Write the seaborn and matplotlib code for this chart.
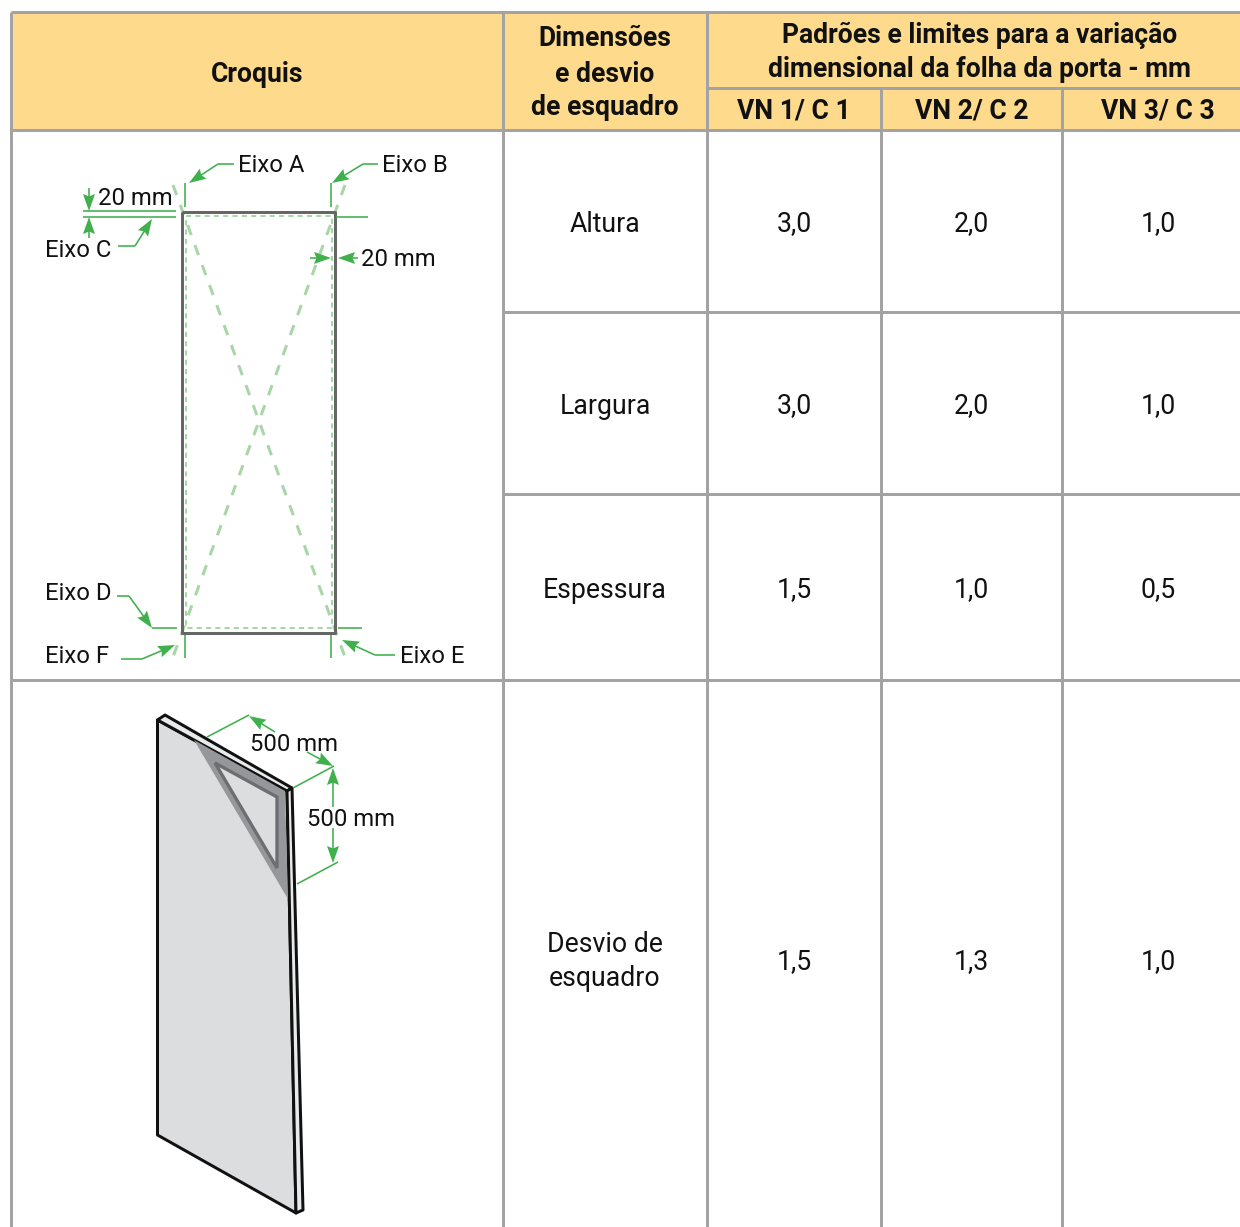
import math

import matplotlib
matplotlib.use("Agg")
import matplotlib.pyplot as plt
from matplotlib.patches import Polygon, Rectangle
import seaborn as sns

# table content
dimensions = ["Altura", "Largura", "Espessura", "Desvio de\nesquadro"]
vn1_values = ["3,0", "3,0", "1,5", "1,5"]
vn2_values = ["2,0", "2,0", "1,0", "1,3"]
vn3_values = ["1,0", "1,0", "0,5", "1,0"]
class_labels = ["VN 1/ C 1", "VN 2/ C 2", "VN 3/ C 3"]
group_title = ["Padrões e limites para a variação", "dimensional da folha da porta - mm"]
dim_title = ["Dimensões", "e desvio", "de esquadro"]

# layout in pixels of the 1240x1227 picture
col_edges = [11, 503, 707, 881, 1062, 1254]
row_edges = [130, 312, 494, 680, 1237]

GRID = "#a3a3a3"
HEAD = "#fedb8c"
GREEN = "#3fb04b"
PALE = "#a9d6a6"
FRAME = "#86cc86"
FACE = "#dcdddf"
PX = 72 / 100  # one pixel in points

sns.set_theme(style="white")
plt.rcParams["font.family"] = ["Roboto", "DejaVu Sans"]

fig = plt.figure(figsize=(12.4, 12.27), dpi=100)
ax = fig.add_axes([0, 0, 1, 1])
ax.set_xlim(0, 1240)
ax.set_ylim(1227, 0)
ax.axis("off")


def line(xs, ys, color=GREEN, width=1.6, z=3, **kw):
    sns.lineplot(x=xs, y=ys, sort=False, estimator=None, errorbar=None, ax=ax,
                 color=color, linewidth=width * PX, zorder=z, legend=False,
                 solid_capstyle="butt", dash_capstyle="butt", **kw)


def arrow(start, tip):
    # thin shaft with a notched head
    length = math.hypot(tip[0] - start[0], tip[1] - start[1])
    dx, dy = (tip[0] - start[0]) / length, (tip[1] - start[1]) / length
    line([start[0], tip[0] - 10 * dx], [start[1], tip[1] - 10 * dy], z=4)
    head = [tip,
            (tip[0] - 17 * dx - 6 * dy, tip[1] - 17 * dy + 6 * dx),
            (tip[0] - 14.5 * dx, tip[1] - 14.5 * dy),
            (tip[0] - 17 * dx + 6 * dy, tip[1] - 17 * dy - 6 * dx)]
    ax.add_patch(Polygon(head, facecolor=GREEN, edgecolor="none", zorder=4))


def leader(xs, ys):
    # all but the last leg is plain line, last leg ends in an arrow head
    line(xs[:-1], ys[:-1])
    arrow((xs[-2], ys[-2]), (xs[-1], ys[-1]))


def label(x, y, s, size=17.2, va="center_baseline", **kw):
    kw.setdefault("ha", "center")
    ax.text(x, y, s, fontsize=size, va=va, color="#111111", zorder=6, **kw)


# header band and grid
ax.add_patch(Rectangle((col_edges[0], 12), col_edges[-1] - col_edges[0], row_edges[0] - 12,
                       facecolor=HEAD, edgecolor="none", zorder=0))
for x in col_edges[:3]:
    line([x, x], [12, 1240], color=GRID, width=3)
for x in col_edges[3:5]:
    line([x, x], [88, 1240], color=GRID, width=3)
line([col_edges[0], 1254], [12, 12], color=GRID, width=3)
line([col_edges[2], 1254], [88, 88], color=GRID, width=3)
for y in row_edges[:1] + row_edges[3:4]:
    line([col_edges[0], 1254], [y, y], color=GRID, width=3)
for y in row_edges[1:3]:
    line([col_edges[1], 1254], [y, y], color=GRID, width=3)

# header text, stacked lines are placed on their baselines
HEAD_SIZE = 19.1
label(257, 71, "Croquis", size=HEAD_SIZE, fontweight="bold")
for s, base in zip(dim_title, [46.5, 81.5, 115]):
    label(605, base, s, size=HEAD_SIZE, va="baseline", fontweight="bold")
for s, base in zip(group_title, [42.7, 77.3]):
    label(980, base, s, size=HEAD_SIZE, va="baseline", fontweight="bold")
for i, s in enumerate(class_labels):
    label((col_edges[i + 2] + col_edges[i + 3]) / 2, 108.5, s, size=HEAD_SIZE, fontweight="bold")

# body text
BODY_SIZE = 19.2
for r in range(len(dimensions)):
    yc = (row_edges[r] + row_edges[r + 1]) / 2
    parts = dimensions[r].split("\n")
    if len(parts) == 1:
        label(605, yc, parts[0], size=BODY_SIZE)
    else:
        for s, base in zip(parts, [951.5, 985.5]):
            label(605, base, s, size=BODY_SIZE, va="baseline")
    for c, col in enumerate([vn1_values, vn2_values, vn3_values]):
        label((col_edges[c + 2] + col_edges[c + 3]) / 2, yc, col[r], size=BODY_SIZE)

# front view of the door: diagonals, inner dashed frame, outline
line([173, 345], [185, 657], color=PALE, width=3, z=2, linestyle=(0, (3.55, 3.55)))
line([345, 173], [185, 657], color=PALE, width=3, z=2, linestyle=(0, (3.55, 3.55)))
line([185.7, 331.5, 331.5, 185.7, 185.7], [216, 216, 627.5, 627.5, 216], color=FRAME, width=1.5, z=2,
     linestyle=(0, (3.4, 2.8)))
line([182, 335, 335, 182, 182], [211.5, 211.5, 633, 633, 211.5], color="#666666", width=3, z=3)

# measuring lines of the front view
line([184.5, 184.5], [183, 207])
line([331, 331], [183, 207])
line([184.5, 184.5], [635, 658])
line([331, 331], [635, 658])
line([83, 176], [211, 211])
line([83, 176], [216.5, 216.5])
line([336, 368], [216.5, 216.5])
line([338, 362], [628, 628])
leader([234, 218, 189], [164, 164, 183])
leader([378, 363, 332], [164, 164, 183])
leader([118, 135, 152], [246, 246, 219])
line([152, 177], [628, 628])
leader([117, 129, 152], [596, 596, 628])
leader([121, 142, 175], [659, 659, 645])
leader([395, 375, 342], [655, 655, 640])
arrow((89, 188), (89, 211))
arrow((89, 238), (89, 217))
arrow((310, 258), (331, 258))
arrow((358, 258), (338, 258))

label(238, 163, "Eixo A", ha="left")
label(382, 163, "Eixo B", ha="left")
label(98, 196, "20 mm", ha="left")
label(45, 248, "Eixo C", ha="left")
label(361, 257, "20 mm", ha="left")
label(45, 591, "Eixo D", ha="left")
label(45, 654, "Eixo F", ha="left")
label(400, 654, "Eixo E", ha="left")

# perspective view of the door with the square on it
ink = dict(edgecolor="#111111", linewidth=3 * PX, joinstyle="round", zorder=3)
ax.add_patch(Polygon([(157.5, 720), (287, 791), (296, 1213), (157.5, 1135)], facecolor=FACE, **ink))
ax.add_patch(Polygon([(157.5, 720), (165, 715), (292, 788), (287, 791)], facecolor="#e9eaeb", **ink))
ax.add_patch(Polygon([(287, 791), (292, 788), (303, 1210), (296, 1213)], facecolor="#e9eaeb", **ink))
ax.add_patch(Polygon([(194, 740), (285, 791), (288, 899)], facecolor="#96979b", edgecolor="none", zorder=4))
ax.add_patch(Polygon([(215, 763), (277, 797), (277, 868)], facecolor=FACE, edgecolor="#6d6e71",
                     linewidth=3.3 * PX, zorder=4))

line([207, 249], [737, 715])
line([293, 334], [788, 766])
line([297, 338], [884, 862])
arrow((275, 732), (249, 716))
arrow((307, 752), (333, 766))
arrow((333, 807), (333, 768))
arrow((333, 828), (333, 863))
label(294, 742, "500 mm")
label(351, 817, "500 mm")

fig.savefig("out.png", dpi=100)
